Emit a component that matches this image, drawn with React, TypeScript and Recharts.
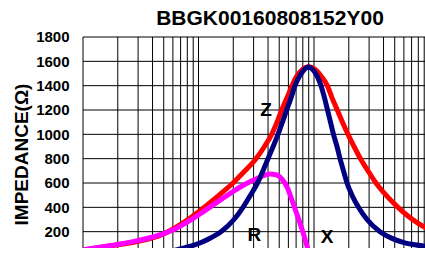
import { CartesianGrid, Line, LineChart, ReferenceDot, ReferenceLine, XAxis, YAxis } from "recharts";

// frequency in MHz, impedance in ohms
const zFreq = [1, 1.931, 3.803, 4.928, 7.343, 10.3, 14.18, 19.89, 25.27, 31.46, 37.27, 43.03, 47.84, 52.53, 58.39, 64.51, 71.26, 78.73, 90.5, 102, 115, 130.4, 143.2, 159.1, 176.5, 197, 222, 252.7, 293.5, 344.2, 420.2, 533.8, 634.7, 764.1, 914.2, 1000];
const zVals = [50, 90, 143, 180, 272, 372, 480, 600, 700, 800, 900, 1000, 1100, 1200, 1300, 1400, 1480, 1530, 1555, 1535, 1480, 1400, 1300, 1200, 1100, 1000, 900, 800, 700, 600, 500, 400, 337, 280, 235, 217];

const rFreq = [1, 1.403, 1.931, 2.71, 3.803, 4.928, 6.259, 8.111, 10.3, 12.83, 15.98, 19.89, 23.81, 29.05, 35.47, 41.59, 46.88, 52.84, 58.39, 63.87, 69.87, 75.66, 81.11, 86.47, 92.34];
const rVals = [52, 72, 92, 118, 150, 182, 222, 282, 345, 408, 470, 530, 575, 618, 655, 673, 668, 632, 568, 470, 365, 270, 180, 90, 0];

const xFreq = [5.129, 7.951, 10.3, 12.83, 15.66, 20.29, 24.28, 28.19, 32.42, 39.97, 48.79, 58.03, 63.23, 68.47, 74.16, 80.33, 89.62, 98, 106.2, 115, 123.3, 130.9, 138.9, 147.5, 158.2, 168, 180, 193.1, 213.3, 242.8, 287.7, 372.8, 473.5, 601.5, 749.1, 914.2, 1000];
const xVals = [30, 72, 107, 150, 200, 300, 400, 500, 600, 800, 1000, 1200, 1300, 1400, 1470, 1520, 1553, 1530, 1480, 1400, 1300, 1200, 1100, 1000, 900, 800, 700, 600, 500, 400, 300, 200, 145, 110, 92, 80, 77];

const yTicks = [200, 400, 600, 800, 1000, 1200, 1400, 1600, 1800];
const xGrid = [1, 2, 3, 4, 5, 6, 7, 8, 9, 10, 20, 30, 40, 50, 60, 70, 80, 90, 100, 200, 300, 400, 500, 600, 700, 800, 900, 1000];

const toRows = (fs: number[], vs: number[]) => fs.map((f, i) => ({ f, v: vs[i] }));
const zData = toRows(zFreq, zVals);
const rData = toRows(rFreq, rVals);
const xData = toRows(xFreq, xVals);

const FONT = "'Liberation Sans', Arial, sans-serif";
const curveLabel = (value: string) => ({ value, position: "center" as const, fill: "#000", fontSize: 19, fontWeight: 700, fontFamily: FONT });

export default function App() {
  return (
    <div style={{ position: "absolute", left: 0, top: 0, width: 425, height: 248, overflow: "hidden", background: "#fff" }}>
      <div style={{ position: "absolute", left: 120, top: 7, width: 300, textAlign: "center", fontFamily: FONT, fontWeight: 700, fontSize: 21, lineHeight: "21px", color: "#000" }}>
        BBGK00160808152Y00
      </div>
      <LineChart width={440} height={265} margin={{ top: 37, right: 10.5, bottom: 0, left: 0 }}>
        <CartesianGrid stroke="#000" strokeWidth={1} vertical={false} />
        <XAxis dataKey="f" type="number" scale="log" domain={[1, 1000]} ticks={xGrid} interval={0} tick={false} tickLine={false} axisLine={false} height={9} allowDataOverflow />
        <YAxis
          type="number"
          domain={[0, 1800]}
          ticks={yTicks}
          interval={0}
          width={83}
          axisLine={false}
          tickLine={false}
          tickMargin={7.5}
          tick={{ fill: "#000", fontSize: 15, fontWeight: 700, fontFamily: FONT }}
          label={{
            content: () => (
              <text x={28} y={154.5} transform="rotate(-90 28 154.5)" textAnchor="middle" fill="#000" fontSize={19} fontWeight={700} fontFamily={FONT}>
                IMPEDANCE(Ω)
              </text>
            )
          }}
        />
        {xGrid.map((t) => (
          <ReferenceLine key={t} x={t} stroke="#000" strokeWidth={1} />
        ))}
        <Line data={zData} dataKey="v" type="monotone" stroke="#ff0000" strokeWidth={5} dot={false} activeDot={false} isAnimationActive={false} />
        <Line data={rData} dataKey="v" type="monotone" stroke="#ff00ff" strokeWidth={5} dot={false} activeDot={false} isAnimationActive={false} />
        <Line data={xData} dataKey="v" type="monotone" stroke="#000080" strokeWidth={5} dot={false} activeDot={false} isAnimationActive={false} />
        <ReferenceDot x={38.4} y={1208} r={0} stroke="none" fill="none" label={curveLabel("Z")} />
        <ReferenceDot x={30.5} y={177} r={0} stroke="none" fill="none" label={curveLabel("R")} />
        <ReferenceDot x={129.6} y={160} r={0} stroke="none" fill="none" label={curveLabel("X")} />
      </LineChart>
    </div>
  );
}
